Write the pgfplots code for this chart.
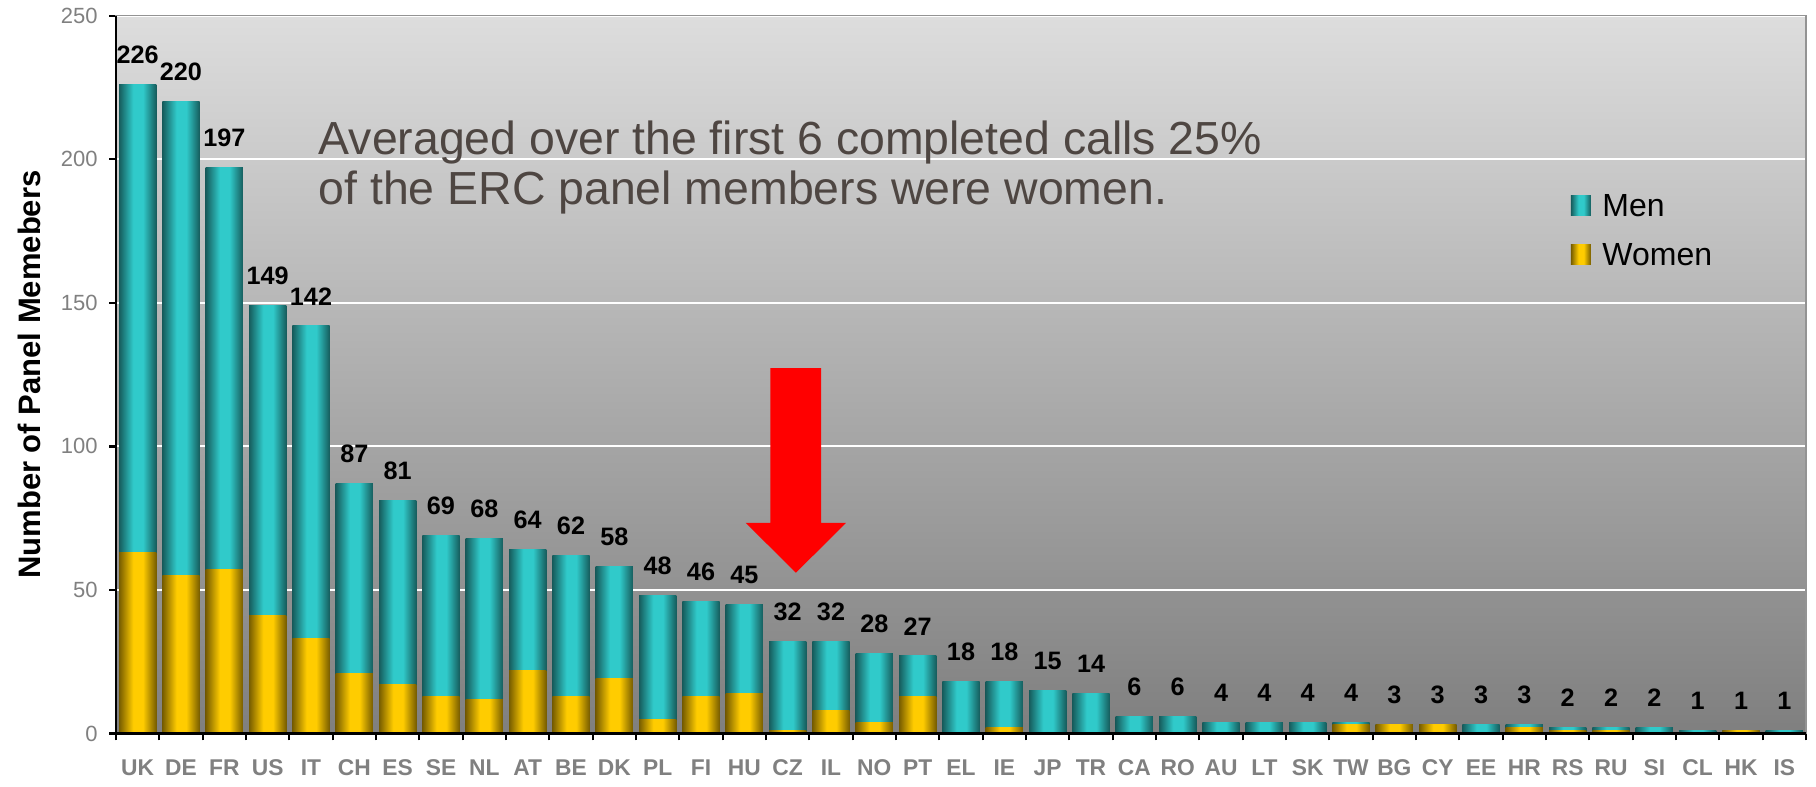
\documentclass[border=0pt]{standalone}
\usepackage{fontspec}
\setmainfont{Liberation Sans}
\usepackage{pgfplots}
\pgfplotsset{compat=1.18}
\usepackage{pgfplotstable}

\definecolor{tealbright}{RGB}{48,202,202}
\definecolor{tealdark}{RGB}{22,92,92}
\definecolor{goldbright}{RGB}{255,204,0}
\definecolor{golddark}{RGB}{118,92,0}
\definecolor{bgtop}{RGB}{221,221,221}
\definecolor{bgbot}{RGB}{127,127,127}
\definecolor{ticklab}{RGB}{128,128,128}
\definecolor{notetext}{RGB}{78,70,66}

% path bbox maps onto 25bp..75bp of the shading
\pgfdeclarehorizontalshading{menshade}{100bp}{color(0bp)=(tealdark); color(25bp)=(tealdark); color(44bp)=(tealbright); color(57bp)=(tealbright); color(75bp)=(tealdark); color(100bp)=(tealdark)}
\pgfdeclarehorizontalshading{womenshade}{100bp}{color(0bp)=(golddark); color(25bp)=(golddark); color(44bp)=(goldbright); color(57bp)=(goldbright); color(75bp)=(golddark); color(100bp)=(golddark)}

% all panel members per country (drawn in teal)
\pgfplotstableread{
i total
0 226
1 220
2 197
3 149
4 142
5 87
6 81
7 69
8 68
9 64
10 62
11 58
12 48
13 46
14 45
15 32
16 32
17 28
18 27
19 18
20 18
21 15
22 14
23 6
24 6
25 4
26 4
27 4
28 4
29 3
30 3
31 3
32 3
33 2
34 2
35 2
36 1
37 1
38 1
}\totaltab

% women per country (countries with none left out)
\pgfplotstableread{
i women
0 63
1 55
2 57
3 41
4 33
5 21
6 17
7 13
8 12
9 22
10 13
11 19
12 5
13 13
14 14
15 1
16 8
17 4
18 13
20 2
21 2
22 4
23 1
24 5
28 3
29 3
30 3
32 2
33 1
34 1
37 1
}\womentab

\begin{document}
\begin{tikzpicture}
\useasboundingbox (-29pt,-13.125pt) rectangle (425pt,183.375pt);
\begin{axis}[
  scale only axis, width=422.5pt, height=179.45pt,
  at={(0pt,0pt)}, anchor=south west,
  xmin=-0.5, xmax=38.5, ymin=0, ymax=250,
  ytick={0,50,...,250},
  xtick={0,...,38},
  xticklabels={UK,DE,FR,US,IT,CH,ES,SE,NL,AT,BE,DK,PL,FI,HU,CZ,IL,NO,PT,EL,IE,JP,TR,CA,RO,AU,LT,SK,TW,BG,CY,EE,HR,RS,RU,SI,CL,HK,IS},
  minor xtick={-0.5,0.5,...,38.5},
  tick pos=left, tick align=outside,
  major tick length=1.7pt, minor tick length=1.7pt,
  major x tick style={draw=none},
  minor x tick style={black, line width=0.55pt},
  major y tick style={black, line width=0.55pt},
  ymajorgrids, grid style={white, line width=0.5pt},
  axis line style={draw=gray!85, line width=0.3pt},
  axis background/.style={top color=bgtop, bottom color=bgbot},
  /pgf/number format/assume math mode=true,
  yticklabel style={font=\fontsize{5.5}{6.6}\selectfont, text=ticklab, anchor=east, inner sep=0pt, xshift=-2.7pt},
  xticklabel style={font=\bfseries\fontsize{5.7}{6.8}\selectfont, text=ticklab, anchor=north, inner sep=0pt, yshift=-4.7pt},
  ylabel={Number of Panel Memebers},
  ylabel style={font=\bfseries\fontsize{7.75}{9}\selectfont, at={(axis description cs:-0.0515,0.5)}, anchor=center},
  legend style={draw=none, fill=none, at={(0.8604,0.7547)}, anchor=north west,
    font=\fontsize{8}{9.6}\selectfont, inner sep=0pt,
    nodes={inner sep=0pt, text height=6pt, text depth=0pt},
    row sep=6.2pt, column sep=2.9pt},
  legend cell align=left,
  sqlegend/.style={legend image code/.code={\path[##1, draw=none] (0pt,-2.8pt) rectangle (5pt,2.2pt);}},
  menbar/.style={ybar, bar width=0.86, bar shift=0pt, draw=none, shade, shading=menshade},
  womenbar/.style={ybar, bar width=0.86, bar shift=0pt, draw=none, shade, shading=womenshade},
  clip=false,
]
\addlegendimage{shade, shading=menshade, sqlegend}
\addlegendentry{Men}
\addlegendimage{shade, shading=womenshade, sqlegend}
\addlegendentry{Women}

% one plot per bar so that every bar gets its own shading
\pgfplotsinvokeforeach{0,...,38}{
  \addplot[menbar, forget plot, restrict x to domain=#1:#1,
    nodes near coords,
    nodes near coords style={font=\bfseries\fontsize{6.3}{7.5}\selectfont, text=black, anchor=south, inner sep=0pt, yshift=5pt}]
    table[x=i, y=total] {\totaltab};
}
\pgfplotsinvokeforeach{0,...,18,20,...,24,28,29,30,32,33,34,37}{
  \addplot[womenbar, forget plot, restrict x to domain=#1:#1]
    table[x=i, y=women] {\womentab};
}

\node[anchor=base west, inner sep=0pt, text=notetext, font=\fontsize{11.6}{13}\selectfont]
  at (axis cs:4.16,201.6) {Averaged over the first 6 completed calls 25\%};
\node[anchor=base west, inner sep=0pt, text=notetext, font=\fontsize{11.6}{13}\selectfont]
  at (axis cs:4.16,184.2) {of the ERC panel members were women.};

\fill[red] (axis cs:14.60,127.3) -- (axis cs:15.77,127.3) -- (axis cs:15.77,73.4)
  -- (axis cs:16.35,73.4) -- (axis cs:15.19,56.0) -- (axis cs:14.03,73.4)
  -- (axis cs:14.60,73.4) -- cycle;

\draw[black, line width=0.6pt] (rel axis cs:0,1) -- (rel axis cs:0,0) -- (rel axis cs:1,0);
\end{axis}
\end{tikzpicture}
\end{document}
